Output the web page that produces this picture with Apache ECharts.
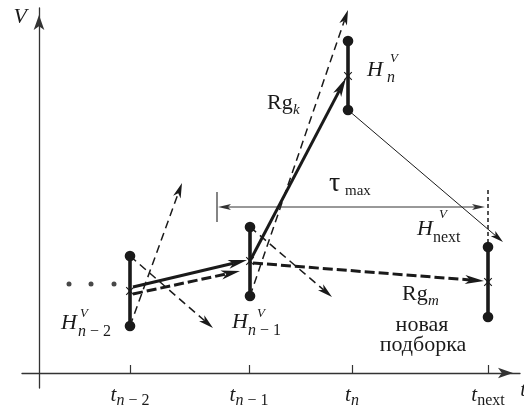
<!DOCTYPE html>
<html><head><meta charset="utf-8">
<script src="https://cdn.jsdelivr.net/npm/echarts@6/dist/echarts.min.js"></script>
<style>html,body{margin:0;padding:0;background:#fff}#c{width:524px;height:407px}</style>
</head><body><div id="c"></div>
<script>
// ---- data (diagram units) ----
const tickValues = [91, 210, 313, 449];
const tickSubItalic = ['n', 'n', 'n', ''];
const tickSubRoman = [' − 2', ' − 1', '', 'next'];

const barX = [91, 211, 309, 449];
const barLow = [47, 77, 263, 56];
const barHigh = [117, 146, 332, 126];
const barMid = [82, 112, 297, 91];

const dotsX = [30, 52, 75];
const dotsY = [89, 89, 89];

const thickSolidArrows = [[94, 86, 208, 113], [212, 114, 307, 295]];
const thickDashedArrows = [[94, 79, 201, 102], [214, 110, 445, 92]];
const thinDashedArrows = [[91, 47, 143, 190], [91, 117, 174, 45], [211, 146, 293, 76], [211, 77, 309, 363]];
const thinSolidArrows = [[309, 263, 464, 131]];
const tauArrow = [[179, 166, 446, 166]];
const tauBar = [[178, 151, 178, 181]];
const nextGuide = [[449, 183, 449, 126]];

// ---- rendering ----
const serif = 'Liberation Serif';
const ink = '#1a1a1a';

function arrowSeries(data, o) {
  return {
    type: 'custom', data: data, silent: true, z: o.z || 3,
    encode: { x: [0, 2], y: [1, 3] },
    renderItem: function (params, api) {
      const a = api.coord([api.value(0), api.value(1)]);
      const b = api.coord([api.value(2), api.value(3)]);
      const dx = b[0] - a[0], dy = b[1] - a[1];
      const len = Math.hypot(dx, dy);
      const ux = dx / len, uy = dy / len;
      const L = o.headLen || 0, W = (o.headW || 0) / 2, N = o.notch || 0;
      function head(p, sx, sy) {
        const nx = -sy, ny = sx;
        return {
          type: 'polygon',
          shape: { points: [
            [p[0], p[1]],
            [p[0] - sx * L + nx * W, p[1] - sy * L + ny * W],
            [p[0] - sx * (L - N), p[1] - sy * (L - N)],
            [p[0] - sx * L - nx * W, p[1] - sy * L - ny * W]
          ] },
          style: { fill: o.color || ink }
        };
      }
      let s = a, e = b;
      if (o.end) e = [b[0] - ux * (L - N), b[1] - uy * (L - N)];
      if (o.start) s = [a[0] + ux * (L - N), a[1] + uy * (L - N)];
      const ch = [{
        type: 'line',
        shape: { x1: s[0], y1: s[1], x2: e[0], y2: e[1] },
        style: { stroke: o.color || ink, lineWidth: o.width, lineDash: o.dash || null, fill: null }
      }];
      if (o.end) ch.push(head(b, ux, uy));
      if (o.start) ch.push(head(a, -ux, -uy));
      return { type: 'group', children: ch };
    }
  };
}

const barRows = barX.map((x, i) => [x, barLow[i], barHigh[i], barMid[i]]);

const barSeries = {
  type: 'custom', data: barRows, silent: true, z: 4,
  encode: { x: 0, y: [1, 2] },
  renderItem: function (params, api) {
    const lo = api.coord([api.value(0), api.value(1)]);
    const hi = api.coord([api.value(0), api.value(2)]);
    const md = api.coord([api.value(0), api.value(3)]);
    const c = 3.8;
    return { type: 'group', children: [
      { type: 'line', shape: { x1: lo[0], y1: lo[1], x2: hi[0], y2: hi[1] }, style: { stroke: ink, lineWidth: 3.6 } },
      { type: 'circle', shape: { cx: lo[0], cy: lo[1], r: 5.3 }, style: { fill: ink } },
      { type: 'circle', shape: { cx: hi[0], cy: hi[1], r: 5.3 }, style: { fill: ink } },
      { type: 'line', shape: { x1: md[0] - c, y1: md[1] - c, x2: md[0] + c, y2: md[1] + c }, style: { stroke: ink, lineWidth: 1.1 } },
      { type: 'line', shape: { x1: md[0] - c, y1: md[1] + c, x2: md[0] + c, y2: md[1] - c }, style: { stroke: ink, lineWidth: 1.1 } }
    ] };
  }
};

function txt(str, left, baseline, size, italic, extra) {
  return {
    type: 'text', x: left, y: baseline - 0.34 * size, silent: true, z: 10,
    style: Object.assign({
      text: str, fill: ink, fontFamily: serif, fontSize: size,
      fontStyle: italic ? 'italic' : 'normal',
      align: 'left', verticalAlign: 'middle'
    }, extra || {})
  };
}
function subRich(it, ro, left, baseline, size) {
  return txt('{i|' + it + '}{r|' + ro + '}', left, baseline, size, false, {
    rich: {
      i: { fontFamily: serif, fontSize: size, fontStyle: 'italic', fill: ink },
      r: { fontFamily: serif, fontSize: size, fill: ink }
    }
  });
}

const graphics = [
  { type: 'text', right: -2, bottom: 6, silent: true, z: 10,
    style: { text: 't', fill: ink, fontFamily: serif, fontSize: 21, fontStyle: 'italic' } },
  txt('H', 61, 331, 22, true), subRich('n', ' − 2', 78, 337, 16), txt('V', 80, 318, 13, true),
  txt('H', 232, 330, 22, true), subRich('n', ' − 1', 248, 336, 16), txt('V', 257, 318, 13, true),
  txt('H', 367, 78, 22, true), txt('n', 387, 83, 16, true), txt('V', 390, 63, 13, true),
  txt('H', 417, 237, 22, true), txt('next', 433, 243, 16, false), txt('V', 439, 219, 13, true),
  txt('Rg', 267, 111, 22, false), txt('k', 293, 115, 15, true),
  txt('τ', 329, 193, 28, false), txt('max', 345, 196, 15, false),
  txt('Rg', 402, 302, 22, false), txt('m', 428, 306, 15, true),
  txt('новая', 422, 333, 22, false, { align: 'center' }),
  txt('подборка', 423, 353, 22, false, { align: 'center' })
];

const chart = echarts.init(document.getElementById('c'), null, { renderer: 'canvas' });
const axisLineStyle = { color: '#333', width: 1.3 };

chart.setOption({
  animation: false,
  backgroundColor: '#fff',
  grid: { left: 22, right: 4, top: 8, bottom: 19, containLabel: false, outerBoundsMode: 'none' },
  xAxis: {
    type: 'value', min: -17, max: 481,
    axisLine: { onZero: true, symbol: ['none', 'arrow'], symbolSize: [8, 15], symbolOffset: [0, -7], lineStyle: axisLineStyle },
    axisTick: { show: true, inside: true, length: 8, customValues: tickValues, lineStyle: { color: '#333', width: 1.2 } },
    axisLabel: {
      show: true, customValues: tickValues, margin: -7, hideOverlap: false,
      formatter: function (v) {
        const i = tickValues.indexOf(v);
        if (i < 0) return '';
        let s = '{t|t}';
        if (tickSubItalic[i]) s += '{si|' + tickSubItalic[i] + '}';
        if (tickSubRoman[i]) s += '{sr|' + tickSubRoman[i] + '}';
        return s;
      },
      rich: {
        t: { fontFamily: serif, fontStyle: 'italic', fontSize: 21, color: ink },
        si: { fontFamily: serif, fontStyle: 'italic', fontSize: 16, color: ink, padding: [12, 0, 0, 0] },
        sr: { fontFamily: serif, fontSize: 16, color: ink, padding: [12, 0, 0, 0] }
      }
    },
    splitLine: { show: false }
  },
  yAxis: {
    type: 'value', min: -15, max: 365,
    name: 'V', nameLocation: 'end', nameGap: -9,
    nameTextStyle: { fontFamily: serif, fontStyle: 'italic', fontSize: 22, color: ink, align: 'right', verticalAlign: 'middle', padding: [0, 12, 0, 0] },
    axisLine: { onZero: true, symbol: ['none', 'arrow'], symbolSize: [8, 15], symbolOffset: [0, -7], lineStyle: axisLineStyle },
    axisTick: { show: false },
    axisLabel: { show: false },
    splitLine: { show: false }
  },
  series: [
    arrowSeries(thinDashedArrows, { width: 1.5, dash: [8, 5], end: true, headLen: 15, headW: 8, notch: 4 }),
    arrowSeries(thinSolidArrows, { width: 1, end: true, headLen: 13, headW: 7, notch: 3 }),
    arrowSeries(tauArrow, { width: 1, start: true, end: true, headLen: 13, headW: 6, notch: 3, color: '#333' }),
    arrowSeries(tauBar, { width: 1.2, color: '#333' }),
    arrowSeries(nextGuide, { width: 1.5, dash: [4, 3] }),
    arrowSeries(thickDashedArrows, { width: 3, dash: [10, 4], end: true, headLen: 19, headW: 9, notch: 5 }),
    arrowSeries(thickSolidArrows, { width: 3, end: true, headLen: 19, headW: 9, notch: 5 }),
    barSeries,
    {
      type: 'scatter', silent: true, data: dotsX.map((x, i) => [x, dotsY[i]]),
      symbol: 'circle', symbolSize: 5, itemStyle: { color: ink }, z: 5
    }
  ],
  graphic: graphics
});
</script>
</body></html>
